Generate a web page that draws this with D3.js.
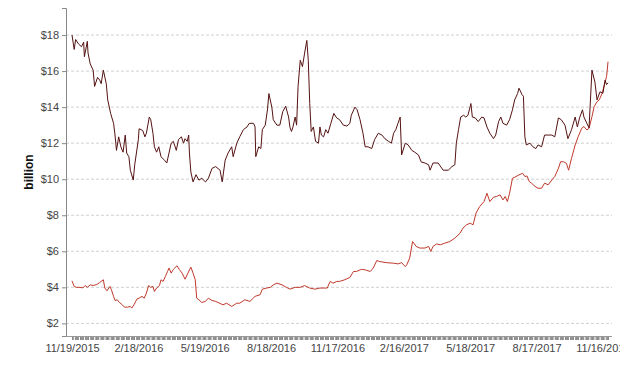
<!DOCTYPE html>
<html>
<head>
<meta charset="utf-8">
<script src="https://cdn.jsdelivr.net/npm/d3@7"></script>
<style>
  body { margin: 0; background: #fff; }
  svg { display: block; }
  .axis text { font-family: "Liberation Sans", Arial, sans-serif; font-size: 11px; }
  .grid line { stroke: #d0d0d0; stroke-dasharray: 3,2; }
</style>
</head>
<body>
<svg id="chart" width="620" height="367"></svg>
<script>
// days are counted from the first date
let startDate = "2015-11-19"

let darkDays = [0,3,5,9,13,16,17,21,22,25,29,31,35,38,40,43,47,49,53,57,59,61,64,67,70,73,75,78,80,84,86,91,92,97,100,102,106,108,111,113,116,119,122,127,130,133,136,139,143,146,150,153,155,158,160,161,163,166,170,174,178,183,187,192,197,203,206,210,214,219,221,226,230,235,240,243,249,251,252,256,259,261,265,268,270,274,276,281,285,289,293,297,299,301,303,306,308,310,313,316,319,322,324,326,328,331,334,338,340,342,345,348,351,355,359,363,367,372,377,381,383,388,391,395,399,402,406,411,415,420,425,429,434,438,441,444,447,450,452,457,461,466,470,475,479,484,489,491,495,502,509,516,521,525,527,530,533,537,540,543,547,549,553,557,562,565,569,573,578,581,585,588,591,596,600,604,607,611,613,617,619,621,623,628,632,636,639,644,648,653,658,662,667,671,676,680,685,690,693,696,700,702,706,709,713,717,720,724,728,731,733,735]
let darkVals = [18.0,17.2,17.75,17.5,17.35,17.6,16.8,17.65,17.0,16.4,16.05,15.15,15.65,15.5,15.3,16.05,15.3,14.4,13.65,13.1,12.45,11.6,12.35,11.8,11.5,12.45,11.45,11.25,10.5,9.95,10.8,12.2,12.8,12.7,12.35,12.55,13.45,13.3,12.55,11.8,11.5,11.8,11.25,11.05,10.9,11.45,12.0,12.1,11.6,12.2,12.35,12.0,12.25,12.1,12.45,11.45,10.4,9.85,10.25,9.95,10.05,9.85,10.05,10.6,10.7,10.5,9.85,11.05,11.45,11.8,11.25,12.0,12.35,12.75,12.9,13.1,13.1,12.9,11.25,11.8,11.7,12.75,13.0,13.85,14.75,14.0,13.3,13.0,13.0,13.75,14.05,13.45,12.85,12.65,12.9,13.45,13.0,15.15,16.6,16.25,17.0,17.7,16.6,14.2,12.65,12.9,12.1,12.0,12.9,12.45,12.35,12.75,12.55,13.1,13.65,13.4,13.3,13.0,12.95,13.1,13.55,14.0,13.85,13.3,12.55,11.8,11.8,11.7,12.2,12.55,12.45,12.25,12.1,12.0,12.55,12.75,13.1,13.45,11.35,12.0,11.9,11.6,11.5,11.35,10.95,10.9,10.8,10.5,10.9,10.9,10.5,10.5,10.7,10.8,12.0,12.75,13.45,13.55,13.45,13.55,14.2,13.45,13.4,13.2,13.45,13.4,12.9,12.55,12.25,12.45,13.2,13.45,13.1,13.0,13.3,13.85,14.4,14.75,15.05,14.7,14.6,12.35,11.9,12.0,11.8,11.7,11.9,11.8,12.45,12.45,12.45,12.35,13.4,13.3,13.0,12.25,12.75,13.45,12.9,13.4,13.85,13.45,13.1,12.85,16.05,15.4,14.4,14.85,14.77,15.5,15.25,15.35]

let redDays = [0,3,6,11,15,18,21,25,29,34,38,43,45,48,52,54,57,59,62,65,69,72,76,80,82,85,89,92,96,99,102,105,108,111,113,116,120,122,125,128,131,133,136,139,144,147,151,155,159,163,166,169,171,174,178,183,187,192,197,207,212,219,226,230,237,244,251,258,261,267,272,276,281,288,294,299,306,313,319,326,333,340,347,350,354,358,363,367,374,381,386,390,397,402,409,413,418,422,431,441,447,452,457,459,463,467,472,477,484,489,492,495,500,505,511,518,525,532,536,541,546,550,554,559,565,569,573,578,582,587,591,594,597,600,604,609,613,618,621,624,627,630,635,639,644,648,653,658,662,667,670,674,678,681,685,690,694,699,702,706,709,713,716,720,723,727,730,733,734,735]
let redVals = [4.36,4.05,4.0,4.0,3.97,4.1,4.0,4.14,4.1,4.16,4.27,4.42,3.96,3.81,4.05,3.87,3.5,3.27,3.31,3.16,3.03,2.9,2.9,2.94,2.85,3.03,3.35,3.4,3.5,3.4,3.68,4.1,4.0,4.05,3.77,3.96,4.1,4.42,4.33,4.6,4.88,5.07,4.79,5.0,5.2,5.0,4.79,4.45,4.79,5.12,4.79,4.42,3.4,3.31,3.16,3.22,3.4,3.27,3.22,3.03,3.12,2.94,3.12,3.12,3.31,3.22,3.5,3.59,3.9,3.96,4.0,4.14,4.23,4.14,4.0,3.9,4.0,4.0,4.1,3.96,3.9,3.96,3.96,3.96,4.33,4.23,4.33,4.33,4.42,4.55,4.88,4.88,5.0,4.97,4.88,5.07,5.49,5.43,5.37,5.34,5.3,5.37,5.15,5.25,5.62,6.54,6.27,6.18,6.18,6.27,5.99,6.27,6.41,6.36,6.45,6.54,6.73,7.0,7.28,7.47,7.56,7.47,8.12,8.48,8.76,9.22,8.76,9.0,9.04,9.13,8.85,9.04,8.76,9.22,10.05,10.15,10.24,10.33,10.15,10.18,9.87,9.78,9.6,9.5,9.5,9.78,9.69,9.96,10.15,10.6,10.97,10.97,10.88,10.5,11.16,11.9,12.35,12.83,12.92,12.73,12.83,13.47,14.03,14.3,14.4,14.77,15.23,15.69,16.06,16.52]

let labelDates = ["2015-11-19","2016-02-18","2016-05-19","2016-08-18","2016-11-17","2017-02-16","2017-05-18","2017-08-17","2017-11-16"]
let yTicks = [2,4,6,8,10,12,14,16,18]

let parse = d3.timeParse("%Y-%m-%d")
let fmt = d3.timeFormat("%-m/%-d/%Y")
let start = parse(startDate)
let toDate = (d) => d3.timeDay.offset(start, d)

let darkData = darkDays.map((d, i) => ({date: toDate(d), value: darkVals[i]}))
let redData = redDays.map((d, i) => ({date: toDate(d), value: redVals[i]}))

let svg = d3.select("#chart")

let x = d3.scaleTime()
  .domain([start, toDate(735)])
  .range([72, 608])

let y = d3.scaleLinear()
  .domain([1.3, 19.5])
  .range([336, 8])

// gridlines
svg.append("g").attr("class", "grid")
  .selectAll("line")
  .data(yTicks)
  .enter().append("line")
  .attr("x1", 66).attr("x2", 612)
  .attr("y1", d => y(d)).attr("y2", d => y(d))

// y axis
let yAxis = svg.append("g")
  .attr("class", "axis")
  .attr("transform", "translate(66,0)")
  .call(d3.axisLeft(y).tickValues(yTicks).tickSize(4).tickPadding(3).tickFormat(d => "$" + d))
yAxis.select(".domain").attr("stroke", "#888")
yAxis.selectAll(".tick line").attr("stroke", "#888")
yAxis.selectAll(".tick text").attr("fill", "#444")

// x axis: a tick for every weekday, a label every 13 weeks
let labelSet = new Set(labelDates)
let weekdays = d3.timeDay.range(start, d3.timeDay.offset(toDate(735), 1))
  .filter(d => d.getDay() != 0 && d.getDay() != 6)

let xAxis = svg.append("g")
  .attr("class", "axis")
  .attr("transform", "translate(0,336)")
  .call(d3.axisBottom(x)
    .tickValues(weekdays)
    .tickSize(4)
    .tickPadding(4)
    .tickFormat(d => labelSet.has(d3.timeFormat("%Y-%m-%d")(d)) ? fmt(d) : ""))
xAxis.select(".domain").remove()
xAxis.selectAll(".tick line").attr("stroke", "#888")
xAxis.selectAll(".tick text").attr("fill", "#444")

svg.append("line")
  .attr("x1", 66).attr("x2", 612)
  .attr("y1", 336.5).attr("y2", 336.5)
  .attr("stroke", "#999")

// axis title
svg.append("text")
  .attr("transform", "translate(33,172) rotate(-90)")
  .attr("text-anchor", "middle")
  .style("font-family", "'Liberation Sans', Arial, sans-serif")
  .style("font-size", "12px")
  .style("font-weight", "bold")
  .attr("fill", "#111")
  .text("billion")

let line = d3.line()
  .x(d => x(d.date))
  .y(d => y(d.value))

svg.append("path")
  .datum(redData)
  .attr("fill", "none")
  .attr("stroke", "#c0392b")
  .attr("stroke-width", 1)
  .attr("d", line)

svg.append("path")
  .datum(darkData)
  .attr("fill", "none")
  .attr("stroke", "#551212")
  .attr("stroke-width", 1)
  .attr("d", line)
</script>
</body>
</html>
